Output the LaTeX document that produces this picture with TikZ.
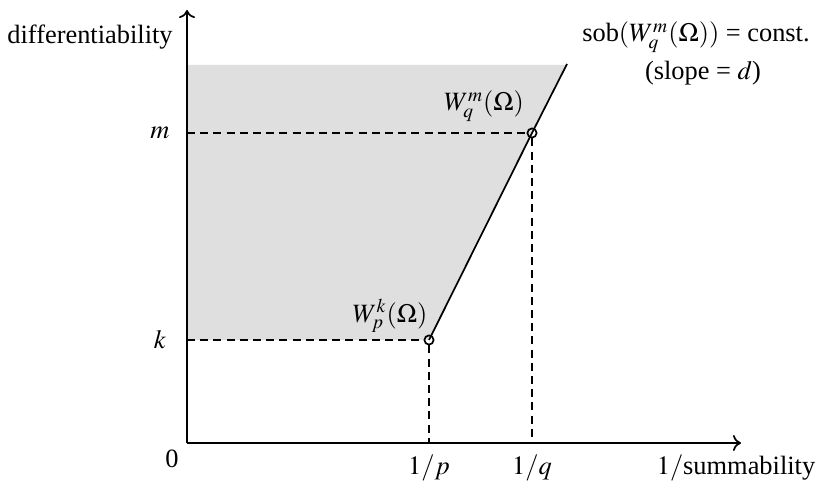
\documentclass[tikz,border=0pt]{standalone}
\usepackage{mathptmx}
\usepackage[no-math]{fontspec}
\setmainfont{Liberation Serif}
\usetikzlibrary{arrows.meta}
\begin{document}
\begin{tikzpicture}[x=0.5pt,y=0.5pt,
  axis/.style={line width=0.85pt,-{To[length=4pt,width=8pt]}},
  guide/.style={line width=0.85pt,dash pattern=on 4pt off 2.6pt},
  pt/.style={circle,draw,line width=0.85pt,inner sep=0pt,minimum size=4.6pt},
  lbl/.style={inner sep=0pt,font=\fontsize{13.2}{15}\selectfont}]
\useasboundingbox (0,0) rectangle (820,488);
\fill[gray!25] (187,148) -- (429,148) -- (566,423) -- (187,423) -- cycle;
\coordinate (O) at (187,45);
\coordinate (ytop) at (187,478);
\coordinate (xend) at (741,45);
\coordinate (ltop) at (567,424);
\coordinate (mk) at (187,355);
\coordinate (kk) at (187,148);
\coordinate (px) at (429,45);
\coordinate (qx) at (532,45);
\node[pt] (P) at (429,148) {};
\node[pt] (Q) at (532,355) {};
\draw[guide] (kk) -- (P.west);
\draw[guide] (P.south) -- (px);
\draw[guide] (mk) -- (Q.west);
\draw[guide] (Q.south) -- (qx);
\draw[line width=0.85pt] (P.center) -- (Q.center) -- (ltop);
\draw[axis] (O) -- (ytop);
\draw[axis] (O) -- (xend);
\node[lbl] (l0) at (172,29) {0};
\node[lbl] (lm) at (160,355) {$m$};
\node[lbl] (lk) at (160,148) {$k$};
\node[lbl] (lp) at (429,20) {$1/p$};
\node[lbl] (lq) at (532,20) {$1/q$};
\node[lbl] (ls) at (736,20) {$1/$summability};
\node[lbl] (ld) at (90,451) {differentiability};
\node[lbl] (lW1) at (484,382) {$W_q^m(\Omega)$};
\node[lbl] (lW2) at (390,172) {$W_p^k(\Omega)$};
\node[lbl] (lsob) at (696,451) {sob$(W_q^m(\Omega))$ = const.};
\node[lbl] (lsl) at (703,415) {(slope = $d$)};
\end{tikzpicture}
\end{document}
